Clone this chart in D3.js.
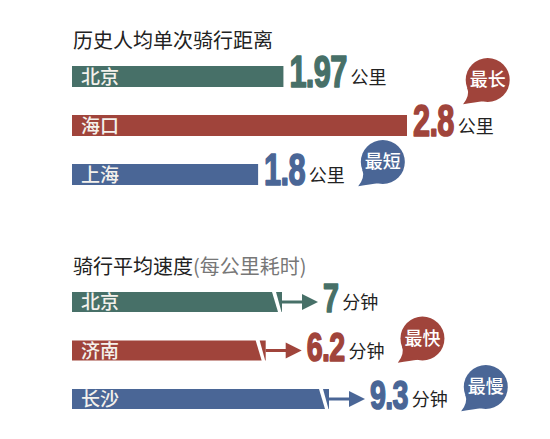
<!DOCTYPE html>
<html><head><meta charset="utf-8">
<script src="https://cdn.jsdelivr.net/npm/d3@7/dist/d3.min.js"></script>
<style>
html,body{margin:0;padding:0;background:#fff;}
svg{display:block;}
</style></head>
<body>
<script>
// ---- data ----
const distTitle = "历史人均单次骑行距离";
const distCities = ["北京", "海口", "上海"];
const distValues = [1.97, 2.8, 1.8];
const distLabels = ["1.97", "2.8", "1.8"];
const distUnit = "公里";
const distBadges = ["", "最长", "最短"];

const speedTitle = "骑行平均速度";
const speedSubtitle = "(每公里耗时)";
const speedCities = ["北京", "济南", "长沙"];
const speedValues = [7, 6.2, 9.3];
const speedLabels = ["7", "6.2", "9.3"];
const speedUnit = "分钟";
const speedBadges = ["", "最快", "最慢"];

// ---- styles ----
const W = 550, H = 439;
const colors = ["#477068", "#a0443b", "#4a6696"];
const CJK = "'Noto Sans CJK SC','Noto Sans',sans-serif";
const NUM = "'Liberation Sans','Arial',sans-serif";
const numScaleX = 0.7;

const svg = d3.select("body").append("svg").attr("width", W).attr("height", H);
svg.append("rect").attr("width", W).attr("height", H).attr("fill", "#fff");

const x0 = 72;

// ---- section 1: distance ----
svg.append("text").attr("x", 73).attr("y", 48)
  .attr("font-family", CJK).attr("font-size", 20).attr("fill", "#222")
  .text(distTitle);

const dx = d3.scaleLinear().domain([0.55, 2.8]).range([0, 335]);
const dy = d3.scalePoint().domain(distCities).range([66, 164]);
const dH = 21;

function numberAndUnit(g, xStart, baseY, label, unit, color, fs) {
  const t = g.append("text")
    .attr("font-family", NUM).attr("font-weight", "bold")
    .attr("font-size", fs).attr("fill", color)
    .attr("stroke", color).attr("stroke-width", 1.6).attr("stroke-linejoin", "round")
    .attr("letter-spacing", -1)
    .attr("transform", `translate(${xStart + 1},${baseY}) scale(${numScaleX},1)`)
    .text(label);
  const w = t.node().getComputedTextLength() * numScaleX;
  const ux = xStart + w + 5;
  const u = g.append("text").attr("x", ux).attr("y", baseY - 3)
    .attr("font-family", CJK).attr("font-size", 18).attr("fill", "#222")
    .text(unit);
  return ux + u.node().getComputedTextLength();
}

function badge(g, cx, cy, txt, color) {
  const r = 22;
  const gb = g.append("g").attr("transform", `translate(${cx},${cy})`);
  gb.append("path")
    .attr("d", `M${-r * 0.2},${r * 0.97} Q${-r * 0.55},${r * 1.02} ${-r * 1.12},${r * 1.1} Q${-r * 0.8},${r * 0.7} ${-r * 0.93},${r * 0.35} Z`)
    .attr("fill", color);
  gb.append("circle").attr("r", r).attr("fill", color);
  gb.append("text").attr("text-anchor", "middle").attr("y", 6)
    .attr("font-family", CJK).attr("font-weight", 500).attr("font-size", 18)
    .attr("fill", "#fff").text(txt);
}

distCities.forEach((c, i) => {
  const g = svg.append("g");
  const top = dy(c), w = dx(distValues[i]), col = colors[i];
  g.append("rect").attr("x", x0).attr("y", top).attr("width", w).attr("height", dH).attr("fill", col);
  g.append("text").attr("x", x0 + 9).attr("y", top + dH - 3)
    .attr("font-family", CJK).attr("font-weight", 500).attr("font-size", 19)
    .attr("fill", "#f4f1ec").text(c);
  const end = numberAndUnit(g, x0 + w + 5, top + dH, distLabels[i], distUnit, col, 44);
  if (distBadges[i]) {
    if (end + 61 > W - 10) badge(g, end - 6, top - 35, distBadges[i], col);
    else badge(g, end + 38, top - 2, distBadges[i], col);
  }
});

// ---- section 2: speed ----
const t2 = svg.append("text").attr("x", 73).attr("y", 274)
  .attr("font-family", CJK).attr("font-size", 20);
t2.append("tspan").attr("fill", "#222").text(speedTitle);
t2.append("tspan").attr("fill", "#777").text(speedSubtitle);

const sx = d3.scaleLinear().domain([0, 9.3]).range([67, 257]);
const sy = d3.scalePoint().domain(speedCities).range([292, 389]);
const sH = 20;

speedCities.forEach((c, i) => {
  const g = svg.append("g");
  const top = sy(c), E = x0 + sx(speedValues[i]), col = colors[i], bot = top + sH;
  // main bar with diagonal break
  g.append("path").attr("fill", col)
    .attr("d", `M${x0},${top}L${E - 10},${top}L${E - 4},${bot}L${x0},${bot}Z`);
  g.append("path").attr("fill", col)
    .attr("d", `M${E - 6},${top}L${E},${top}L${E},${bot}L${E - 0.5},${bot}Z`);
  g.append("text").attr("x", x0 + 9).attr("y", bot - 3)
    .attr("font-family", CJK).attr("font-weight", 500).attr("font-size", 19)
    .attr("fill", "#f4f1ec").text(c);
  // arrow
  const cy = top + sH / 2;
  g.append("line").attr("x1", E).attr("x2", E + 24).attr("y1", cy).attr("y2", cy)
    .attr("stroke", col).attr("stroke-width", 3);
  g.append("path").attr("fill", col)
    .attr("d", `M${E + 20},${cy - 8}L${E + 36},${cy}L${E + 20},${cy + 8}Z`);
  const end = numberAndUnit(g, E + 40, bot, speedLabels[i], speedUnit, col, 41);
  if (speedBadges[i]) {
    if (end + 61 > W - 10) badge(g, end - 6, top - 35, speedBadges[i], col);
    else badge(g, end + 38, top - 2, speedBadges[i], col);
  }
});
</script>
</body></html>
